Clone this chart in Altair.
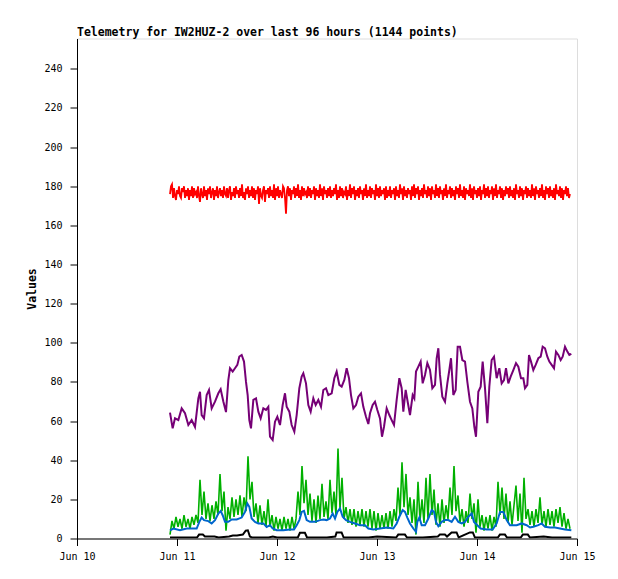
import altair as alt
import pandas as pd

TITLE = "Telemetry for IW2HUZ-2 over last 96 hours (1144 points)"
START = pd.Timestamp("2023-06-10 00:00:00")

# regular grids (hours from Jun 10 00:00) for the two noisy channels
GRID_START_H = 22.32
RED_STEP_H = 0.24
GREEN_STEP_H = 0.48

red_vals = [
    176,180,181,174,179,175,173,178,176,180,175,174,179,177,180,174,178,175,179,173,
    178,175,180,174,179,176,177,174,180,175,172,179,176,174,180,175,178,173,179,176,
    180,174,177,179,173,178,175,180,174,177,179,175,178,174,180,176,175,179,174,178,
    180,173,177,175,179,174,180,176,178,174,179,175,181,174,177,173,179,176,180,174,
    178,175,180,174,179,173,178,176,180,171,179,175,174,178,180,172,178,176,179,174,
    180,175,178,174,181,173,179,175,180,174,178,176,174,180,179,174,166,178,180,175,
    179,173,178,176,180,174,179,175,181,174,178,173,180,175,179,176,177,174,180,175,
    179,174,178,176,180,173,179,175,178,174,181,175,179,173,180,176,178,174,179,175,
    180,174,178,175,179,176,181,173,178,174,180,175,179,174,177,176,180,173,178,175,
    181,174,179,176,180,173,178,175,179,174,180,176,178,173,179,175,181,174,178,175,
    180,174,179,176,178,173,181,175,179,174,180,175,178,176,179,173,180,174,178,175,
    180,174,178,176,179,173,180,175,178,174,181,176,179,173,180,175,178,174,179,176,
    178,173,180,175,181,174,179,176,180,173,178,175,179,174,181,176,178,174,180,175,
    179,173,180,176,178,174,181,175,179,174,180,176,178,173,179,175,181,174,178,176,
    180,174,179,175,178,173,180,176,179,174,181,175,178,174,180,173,179,176,178,175,
    181,174,179,173,180,176,178,174,179,175,180,173,178,176,181,174,179,175,180,174,
    178,176,180,173,179,175,181,174,178,176,180,174,179,173,178,175,180,176,179,174,
    180,175,178,174,179,173,181,176,178,174,180,175,179,173,178,176,180,174,179,175,
    178,174,181,175,179,173,180,176,178,174,179,175,181,174,178,173,180,176,179,174,
    180,175,178,174,179,173,181,176,178,175,180,174,179,173,178,176,180,175,179,174,
    176,
]

green_vals = [
    2,9,5,11,6,10,5,12,6,10,
    5,11,7,12,8,30,12,24,10,18,
    9,17,10,19,12,33,14,24,4,16,
    10,21,11,20,12,22,11,21,14,42,
    20,29,11,18,8,17,7,14,6,20,
    6,12,4,11,5,10,4,11,5,10,
    4,11,5,10,24,12,37,18,30,12,
    23,9,20,8,22,10,28,11,19,10,
    30,13,24,12,46,15,31,10,16,8,
    15,7,15,6,14,7,15,6,14,6,
    15,5,14,4,13,5,12,5,13,5,
    14,6,15,9,26,12,39,16,33,12,
    21,8,20,2,29,9,20,8,31,10,
    33,12,25,7,18,6,20,8,17,10,
    26,12,37,14,22,8,15,6,14,8,
    23,10,18,3,20,6,12,4,11,5,
    12,4,11,6,29,12,26,10,23,8,
    19,7,17,27,9,23,3,31,10,15,
    7,14,6,15,8,21,7,14,6,15,
    7,14,6,15,8,16,6,13,5,10,
    5,
]

purple_h = [
    22.32,22.96,23.52,24.32,25.12,25.92,26.72,27.52,28.32,29.12,
    29.52,29.92,30.48,31.12,31.68,32.32,33.12,33.92,34.48,35.12,
    35.76,36.32,36.72,37.36,37.92,38.48,38.96,39.52,40.08,40.56,
    40.96,41.36,41.76,42.32,42.96,43.52,44.08,44.72,45.36,45.92,
    46.32,46.96,47.52,48.08,48.72,49.36,49.92,50.32,50.96,51.52,
    52.16,52.72,53.36,53.92,54.32,54.96,55.52,56.08,56.72,57.28,
    57.92,58.56,59.12,59.76,60.32,61.12,61.76,62.32,62.96,63.52,
    64.16,64.72,65.28,65.76,66.32,66.96,67.52,68.16,68.72,69.36,
    69.92,70.32,70.96,71.52,72.08,72.72,73.2,73.68,74.32,74.96,
    75.52,76.08,76.72,77.36,77.92,78.32,78.88,79.36,79.92,80.56,
    80.96,81.36,81.92,82.48,82.96,83.52,84.08,84.72,85.28,85.92,
    86.32,86.72,87.12,87.68,88.32,88.88,89.36,89.76,90.32,90.88,
    91.36,91.92,92.48,93.12,93.68,94.32,94.88,95.36,95.76,96.32,
    96.88,97.36,97.92,98.48,98.96,99.52,100.08,100.72,101.36,101.92,
    102.48,102.96,103.52,104.08,104.72,105.36,105.92,106.56,107.12,107.52,
    108.08,108.48,108.96,109.52,110.08,110.72,111.28,111.76,112.32,112.88,
    113.36,113.92,114.48,114.96,115.52,116.08,116.56,117.12,117.68,118.16,
    118.64,
]
purple_v = [
    64.3,56.3,61.4,60.5,66.5,64,58,60.5,57,71.6,
    75,63,61.4,73.3,75.9,66.5,69.9,74.2,76.3,70,
    64.6,81,87,85.3,87,88.7,93,93.8,90.4,80,
    73.3,60.5,56.3,70.8,71.6,64.8,61.4,66.5,65.7,67.3,
    52,50.3,59.7,62.2,58,68.2,74.2,67.3,64.8,58,
    54.6,63.1,76.8,82.7,84.4,79.3,68.2,64.8,71.6,68.2,
    70.8,67.3,75.9,76.8,73.3,74.2,81.9,85.3,78.5,77.6,
    81,87,81.9,73.3,66.5,68.2,72.5,74.2,67.3,62.2,
    58.5,64,68.2,69.9,65.7,61.4,52,57.1,66.5,63.1,
    60.5,58,70.8,81.9,76.8,64.8,75.9,69.9,63.1,73.3,
    71.6,85.3,87.8,90.4,79.3,83.6,89.6,86.1,76.8,78.5,
    92.1,97.2,83.6,72.5,69.9,79.3,86.1,92.1,73.3,75.9,
    98,98,91.2,90.4,80.1,69.9,66.5,57.1,52,75,
    77.6,90.4,76.8,58.9,77.6,91.2,92.9,81.9,87,79.3,
    81,87,79.3,82.7,86.1,89.6,87.8,81.9,81.9,76.8,
    78.5,93.8,90.4,86.1,88.7,92.1,92.9,98,97.2,92.9,
    90.4,88.7,87,95.5,93.8,91.2,92.9,98,95.5,93.8,
    94.3,
]

blue_h = [
    22.32,23.12,24.72,26.32,28.72,29.36,29.92,30.48,31.52,32.32,
    33.12,33.92,34.48,34.96,35.52,36.32,37.12,38.32,39.52,40.32,
    40.88,41.36,41.92,42.72,43.52,44.72,45.52,46.32,46.96,47.92,
    49.52,51.12,52.08,52.72,53.36,53.92,54.48,55.12,55.92,57.12,
    58.32,59.12,59.92,60.72,61.36,61.92,62.48,63.12,63.76,64.56,
    65.52,66.72,67.92,69.12,69.92,71.12,72.72,74.32,75.92,76.72,
    77.36,78.16,78.72,79.28,79.92,80.72,81.36,81.68,82.16,82.72,
    83.52,84.32,85.12,85.68,86.16,86.72,87.52,88.32,89.12,89.92,
    90.72,91.52,92.32,93.12,93.92,94.72,95.28,96.08,96.88,98.32,
    99.76,100.72,101.52,102.32,103.12,103.92,105.52,106.72,107.92,108.72,
    109.52,110.72,111.52,112.32,113.52,114.72,115.92,117.12,118.64,
]
blue_v = [
    4.2,5.1,4.2,5.1,5.1,8.5,10.7,9.4,8.9,7.7,
    9.4,12.8,14.1,11.9,8.5,8.5,9.7,9.7,10.7,13.6,
    17.9,16.2,10.2,8.5,7.7,7.7,5.9,6.8,5.1,4.2,
    4.2,4.6,4.6,6.8,9.4,13.6,14.1,9.4,8.5,8.5,
    9.4,9.7,9.4,10.2,12.8,10.2,13.6,15.4,11.1,9.4,
    8.5,7.7,6.8,6.8,5.1,4.6,5.1,5.6,5.1,7.7,
    11.1,14.5,13.6,10.7,7.7,5.1,3.4,8.5,10.7,6.8,
    6.8,10.2,14.5,13.6,8.5,6.3,8.5,9.4,9.4,8.5,
    11.1,8.5,7.7,8.5,11.1,12.8,8.5,6.8,5.1,4.6,
    4.6,7.7,13.6,13.6,9.4,6.8,6.8,7.7,6.8,5.6,
    6,6.8,7.7,6,5.6,5.6,5.1,4.6,4.2,
]

black_h = [
    22.32,28.8,29.3,30.2,30.7,33,34,36.5,37.4,38.4,
    39.8,40.5,41.0,41.5,42,46,47,48,53,53.5,
    54.7,55.2,60,62,62.3,63.5,64,70,72,76.6,
    77.1,78.7,79.2,83,86.6,87.1,88.3,88.8,89.9,91.1,
    91.6,94.3,95,95.5,101,101.5,102.7,103.2,106.5,107,
    108.2,108.7,112,114,118.64,
]
black_v = [
    0.5,0.5,2,2,1,1,0.5,1,1.5,1.5,
    2,4,4.2,1,0.5,0.5,1,0.5,0.5,2.9,
    2.9,0.5,0.5,1,3.1,3.1,0.5,0.5,1,0.5,
    2,2,0.5,0.5,1,2,2,1,3.1,3.1,
    0.5,3.1,3.1,0.5,0.5,2,2,0.5,0.5,2,
    2,0.5,1,0.5,0.5,
]

Y_TICKS = [0, 20, 40, 60, 80, 100, 120, 140, 160, 180, 200, 220, 240]
X_DAYS = [10, 11, 12, 13, 14, 15]


def frame(hours, values):
    return pd.DataFrame({
        "time": [START + pd.Timedelta(hours=h) for h in hours],
        "value": values,
    })


grid_red = [GRID_START_H + RED_STEP_H * i for i in range(len(red_vals))]
grid_green = [GRID_START_H + GREEN_STEP_H * i for i in range(len(green_vals))]

MONO = "DejaVu Sans Mono"

x_enc = alt.X(
    "time:T",
    scale=alt.Scale(domain=[alt.DateTime(year=2023, month=6, date=10),
                            alt.DateTime(year=2023, month=6, date=15)]),
    axis=alt.Axis(
        title=None,
        values=[alt.DateTime(year=2023, month=6, date=d) for d in X_DAYS],
        format="%b %d",
        grid=False,
        tickSize=7,
        tickColor="black",
        domainColor="black",
        labelColor="black",
        labelFont=MONO,
        labelFontSize=10,
        labelPadding=6,
        labelFlush=False,
        labelAlign="center",
    ),
)
y_enc = alt.Y(
    "value:Q",
    scale=alt.Scale(domain=[0, 255.5], nice=False, zero=True),
    axis=alt.Axis(
        title="Values",
        values=Y_TICKS,
        grid=False,
        tickSize=7,
        tickColor="black",
        domainColor="black",
        labelColor="black",
        labelFont=MONO,
        labelFontSize=10,
        labelPadding=8,
        titleFont=MONO,
        titleFontSize=11.5,
        titleFontWeight="bold",
        titleColor="black",
        titleX=-40,
        titleY=250,
    ),
)


def line(df, color, width):
    return alt.Chart(df).mark_line(color=color, strokeWidth=width, clip=True).encode(
        x=x_enc, y=y_enc
    )


chart = alt.layer(
    line(frame(grid_red, red_vals), "#ff0000", 1.8),
    line(frame(purple_h, purple_v), "#760076", 2),
    line(frame(grid_green, green_vals), "#00b000", 1.6),
    line(frame(blue_h, blue_v), "#0066cc", 2),
    line(frame(black_h, black_v), "#000000", 2),
).properties(
    width=500,
    height=500,
    title=alt.TitleParams(
        TITLE,
        anchor="start",
        frame="group",
        font=MONO,
        fontSize=11.5,
        fontWeight="bold",
        color="black",
        baseline="alphabetic",
        offset=4,
        dy=13,
    ),
    autosize=alt.AutoSizeParams(type="none"),
    padding={"left": 69, "top": 30.5, "right": 30, "bottom": 40},
).configure_view(
    stroke="#404040", strokeWidth=1
).configure(background="white")

chart.save("out.html", embed_options={"renderer": "svg", "actions": False})
